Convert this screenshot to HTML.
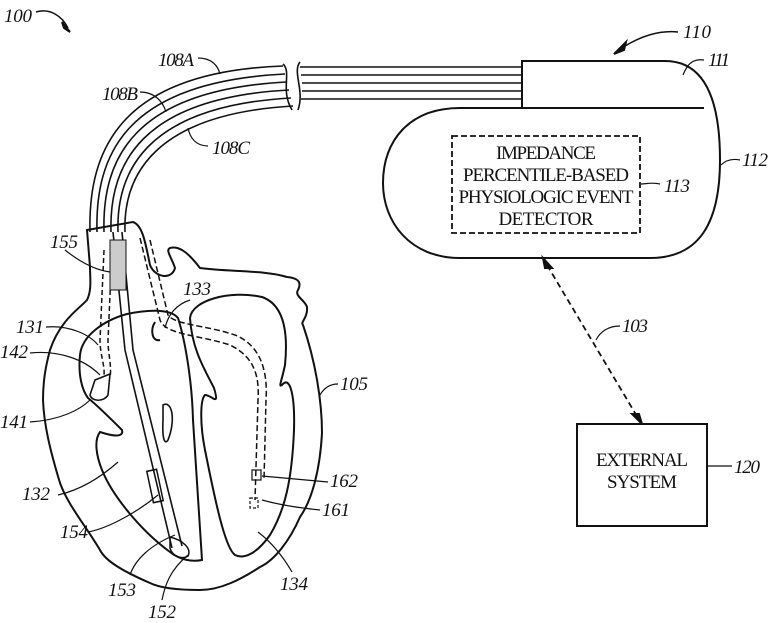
<!DOCTYPE html>
<html><head><meta charset="utf-8"><style>
html,body{margin:0;padding:0;background:#fff;}
svg{display:block;}
text{font-family:"Liberation Serif",serif;fill:#111;}
.l{font-style:italic;font-size:19px;}
</style></head><body>
<svg width="771" height="623" viewBox="0 0 771 623" fill="none" stroke="#111" stroke-width="2">
<text class="l" x="4" y="22" stroke="none" textLength="28">100</text>
<path d="M36,12 C50,8 62,16 68,28" stroke-width="1.5"/>
<path d="M62,22 L70,32 L64,28 Z" fill="#111"/>
<g stroke-width="1.6">
<path d="M90,232 C88,150 120,72 283,66"/>
<path d="M97,232 C95,155 125,82 285,74"/>
<path d="M104,232 C102,160 132,90 287,82"/>
<path d="M111,232 C109,165 140,98 289,90"/>
<path d="M118,232 C116,170 148,106 291,98"/>
<path d="M125,232 C123,175 155,114 293,106"/>
<path d="M283,64 C292,72 280,90 292,110"/>
<path d="M300,62 C292,72 305,90 298,110"/>
<path d="M300,67 L522,67 M301,75 L522,75 M302,83 L522,83 M302,91 L522,91 M301,99 L522,99"/>
</g>
<text class="l" x="158" y="66" stroke="none" textLength="36">108A</text>
<path d="M198,58 C212,58 218,66 220,74" stroke-width="1.2"/>
<text class="l" x="102" y="100" stroke="none" textLength="36">108B</text>
<path d="M140,92 C155,92 163,102 166,112" stroke-width="1.2"/>
<text class="l" x="212" y="154" stroke="none" textLength="38">108C</text>
<path d="M208,146 C196,146 190,138 188,128" stroke-width="1.2"/>
<path d="M522,108 L522,61 L665,61 C705,61 720,100 720,160 C720,222 700,258 650,258 L460,258 C410,258 383,222 383,183 C383,140 410,108 460,108 Z"/>
<path d="M522,108 L704,108"/>
<rect x="452" y="136" width="188" height="97" stroke-dasharray="6,3" stroke-width="1.8"/>
<g stroke="none" font-size="19" text-anchor="middle">
<text x="546" y="159" textLength="100">IMPEDANCE</text>
<text x="546" y="181" textLength="166">PERCENTILE-BASED</text>
<text x="546" y="203" textLength="175">PHYSIOLOGIC EVENT</text>
<text x="546" y="225" textLength="95">DETECTOR</text>
</g>
<text class="l" x="683" y="38" stroke="none" textLength="28">110</text>
<path d="M678,32 C660,30 640,36 622,48" stroke-width="1.5"/>
<path d="M614,54 L626,42 L624,50 Z" fill="#111"/>
<text class="l" x="708" y="66" stroke="none" textLength="22">111</text>
<path d="M704,60 C690,58 686,68 683,75" stroke-width="1.2"/>
<text class="l" x="742" y="166" stroke="none" textLength="26">112</text>
<path d="M740,160 C730,158 724,162 721,165" stroke-width="1.2"/>
<text class="l" x="664" y="192" stroke="none" textLength="26">113</text>
<path d="M660,184 C652,182 646,184 641,184" stroke-width="1.2"/>
<path d="M547,265 L638,418" stroke-dasharray="6,4" stroke-width="1.8"/>
<path d="M543,258 L552,268 L545,268 Z" fill="#111"/>
<path d="M642,424 L632,414 L639,414 Z" fill="#111"/>
<text class="l" x="622" y="332" stroke="none" textLength="26">103</text>
<path d="M620,326 C608,326 600,332 596,340" stroke-width="1.2"/>
<rect x="577" y="424" width="130" height="102"/>
<g stroke="none" font-size="19" text-anchor="middle">
<text x="642" y="466" textLength="92">EXTERNAL</text>
<text x="642" y="488" textLength="70">SYSTEM</text>
</g>
<text class="l" x="734" y="473" stroke="none" textLength="26">120</text>
<path d="M732,466 L708,466" stroke-width="1.2"/>
<!-- heart outer -->
<path d="M87,230 L133,222 C142,225 145,240 150,265 C155,278 172,280 175,268 C172,258 165,250 170,248 C180,245 190,255 200,268 C230,272 265,270 287,277 C298,278 302,282 298,290 C294,296 305,300 307,307 C308,318 300,322 303,325 C315,360 322,400 322,433 C320,470 312,500 300,517 C290,540 275,560 260,567 C240,580 220,590 200,590 C180,590 160,588 150,583 C120,570 105,560 100,550 C85,525 68,505 60,483 C50,450 44,425 43,400 C43,380 46,365 50,350 C60,320 80,308 87,300 C92,290 90,278 90,267 Z"/>
<!-- RA/RV inner contour -->
<path d="M127,314 C105,320 82,335 80,355 C78,375 82,390 88,398 C98,406 112,420 122,430 C124,438 112,436 100,432 C94,440 96,455 102,470 C112,495 140,530 170,552 C180,560 192,562 202,560 L193,420 C192,380 185,340 178,318 C170,308 145,310 127,314 Z"/>
<path d="M155,322 C150,330 152,342 160,340"/>
<!-- LV inner -->
<path d="M190,318 C192,300 230,290 262,297 C285,305 288,335 285,365 C282,380 278,388 282,385 C290,375 295,395 294,430 C292,480 285,510 270,535 C258,552 245,560 235,555 C225,548 215,500 205,450 C200,425 200,400 205,395 C212,395 220,408 214,388 C205,370 192,350 190,318 Z"/>
<path d="M163,405 C172,400 176,420 168,440 C165,445 162,440 163,420 Z" stroke-width="1.6"/>
<!-- lead in heart -->
<path d="M113,232 L125,350 L172,548 M122,232 L133,350 L182,546" stroke-width="1.6"/>
<rect x="150" y="470" width="10" height="32" transform="rotate(-12 155 486)" stroke-width="1.5"/>
<path d="M170,537 C182,540 192,548 188,556 C182,560 172,556 170,548 Z" stroke-width="1.5"/>
<path d="M104,250 L100,340 C100,355 105,365 104,375 M112,250 L108,340 C108,355 112,365 110,378" stroke-dasharray="5,3" stroke-width="1.5"/>
<path d="M95,380 L110,374 L108,395 C104,402 92,402 90,395 Z" stroke-width="1.6"/>
<rect x="110" y="240" width="16" height="50" fill="#ccc" stroke-width="1"/>
<path d="M140,238 L160,320 C165,335 200,335 230,345 C250,355 260,370 258,400 L255,500 M150,240 L168,315 C175,325 205,325 235,335 C260,345 268,370 266,400 L264,480" stroke-dasharray="6,3" stroke-width="1.5"/>
<rect x="252" y="470" width="9" height="10" stroke-width="1.2"/>
<rect x="250" y="498" width="8" height="10" stroke-width="1.2" stroke-dasharray="3,2"/>
<g stroke="none">
<text class="l" x="50" y="248" textLength="28">155</text>
<text class="l" x="183" y="295" textLength="28">133</text>
<text class="l" x="16" y="333" textLength="28">131</text>
<text class="l" x="0" y="358" textLength="28">142</text>
<text class="l" x="0" y="428" textLength="28">141</text>
<text class="l" x="22" y="500" textLength="28">132</text>
<text class="l" x="60" y="538" textLength="28">154</text>
<text class="l" x="108" y="596" textLength="28">153</text>
<text class="l" x="148" y="618" textLength="28">152</text>
<text class="l" x="280" y="590" textLength="28">134</text>
<text class="l" x="340" y="390" textLength="28">105</text>
<text class="l" x="330" y="487" textLength="28">162</text>
<text class="l" x="322" y="516" textLength="28">161</text>
</g>
<g stroke-width="1.2">
<path d="M65,250 C80,262 95,270 110,272"/>
<path d="M190,300 C175,305 168,315 165,328"/>
<path d="M46,327 C70,325 90,335 98,345"/>
<path d="M30,353 C60,350 85,360 100,375"/>
<path d="M30,422 C60,420 80,410 90,400"/>
<path d="M58,495 C80,490 100,478 118,462"/>
<path d="M88,532 C110,528 140,510 158,495"/>
<path d="M130,575 C135,560 150,545 175,535"/>
<path d="M162,600 C165,585 170,570 188,555"/>
<path d="M292,572 C285,560 275,545 258,532"/>
<path d="M338,384 C330,384 324,388 320,395"/>
<path d="M328,482 L262,476"/>
<path d="M320,510 C300,508 280,505 262,500"/>
</g>
</svg>
</body></html>
